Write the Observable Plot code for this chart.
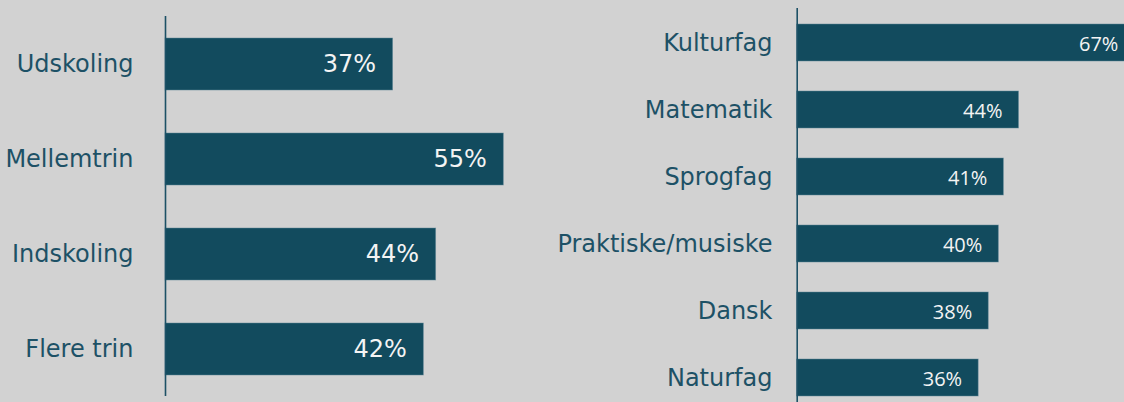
<!DOCTYPE html>
<html>
<head>
<meta charset="utf-8">
<script src="https://cdn.jsdelivr.net/npm/d3@7"></script>
<script src="https://cdn.jsdelivr.net/npm/@observablehq/plot@0.6"></script>
<style>
  html, body { margin: 0; padding: 0; background: #d2d2d2; overflow: hidden; }
  #wrap { position: relative; width: 1124px; height: 402px; }
  #left { position: absolute; left: 0; top: 0; width: 540px; height: 402px; }
  #right { position: absolute; left: 540px; top: 0; width: 584px; height: 402px; }
</style>
</head>
<body>
<div id="wrap"><div id="left"></div><div id="right"></div></div>
<script>
const trinCategories = ["Udskoling", "Mellemtrin", "Indskoling", "Flere trin"];
const trinValues = [37, 55, 44, 42];
const fagCategories = ["Kulturfag", "Matematik", "Sprogfag", "Praktiske/musiske", "Dansk", "Naturfag"];
const fagValues = [67, 44, 41, 40, 38, 36];

const barColor = "#124b5e";
const textColor = "#1d5166";
const labelColor = "#f4f4f4";

const trinData = trinCategories.map((c, i) => ({cat: c, value: trinValues[i]}));
const fagData = fagCategories.map((c, i) => ({cat: c, value: fagValues[i]}));

const left = Plot.plot({
  width: 540,
  height: 402,
  marginLeft: 165,
  marginRight: 37,
  marginTop: 16,
  marginBottom: 6,
  style: {background: "transparent", fontFamily: "DejaVu Sans", color: textColor, overflow: "visible"},
  x: {domain: [0, 55], range: [165, 503.3], axis: null},
  y: {domain: trinCategories, range: [16, 396], paddingInner: 0.455, paddingOuter: 0.2275, axis: null},
  marks: [
    Plot.axisY({tickSize: 0, tickPadding: 32, fontSize: 24, label: null, fill: textColor}),
    Plot.barX(trinData, {x: "value", y: "cat", fill: barColor, stroke: "#5f8797", strokeWidth: 0.8, strokeOpacity: 0.6}),
    Plot.ruleX([0], {stroke: textColor, strokeWidth: 1.6}),
    Plot.text(trinData, {x: "value", y: "cat", text: d => d.value + "%", textAnchor: "end", dx: -17, fill: labelColor, fontSize: 24})
  ]
});
document.getElementById("left").append(left);

const right = Plot.plot({
  width: 584,
  height: 402,
  marginLeft: 256.7,
  marginRight: 0,
  marginTop: 8,
  marginBottom: 0,
  style: {background: "transparent", fontFamily: "DejaVu Sans", color: textColor, overflow: "visible"},
  x: {domain: [0, 67], range: [256.7, 594.4], axis: null},
  y: {domain: fagCategories, range: [8, 411], paddingInner: 0.452, paddingOuter: 0.226, axis: null},
  marks: [
    Plot.axisY({tickSize: 0, tickPadding: 24.7, fontSize: 24, label: null, fill: textColor}),
    Plot.barX(fagData, {x: "value", y: "cat", fill: barColor, stroke: "#5f8797", strokeWidth: 0.8, strokeOpacity: 0.6}),
    Plot.ruleX([0], {stroke: textColor, strokeWidth: 1.6}),
    Plot.text(fagData, {x: "value", y: "cat", text: d => d.value + "%", textAnchor: "end", dx: -16.5, dy: 1.5, fill: labelColor, fontSize: 20, fontFamily: "Open Sans"})
  ]
});
document.getElementById("right").append(right);
</script>
</body>
</html>
